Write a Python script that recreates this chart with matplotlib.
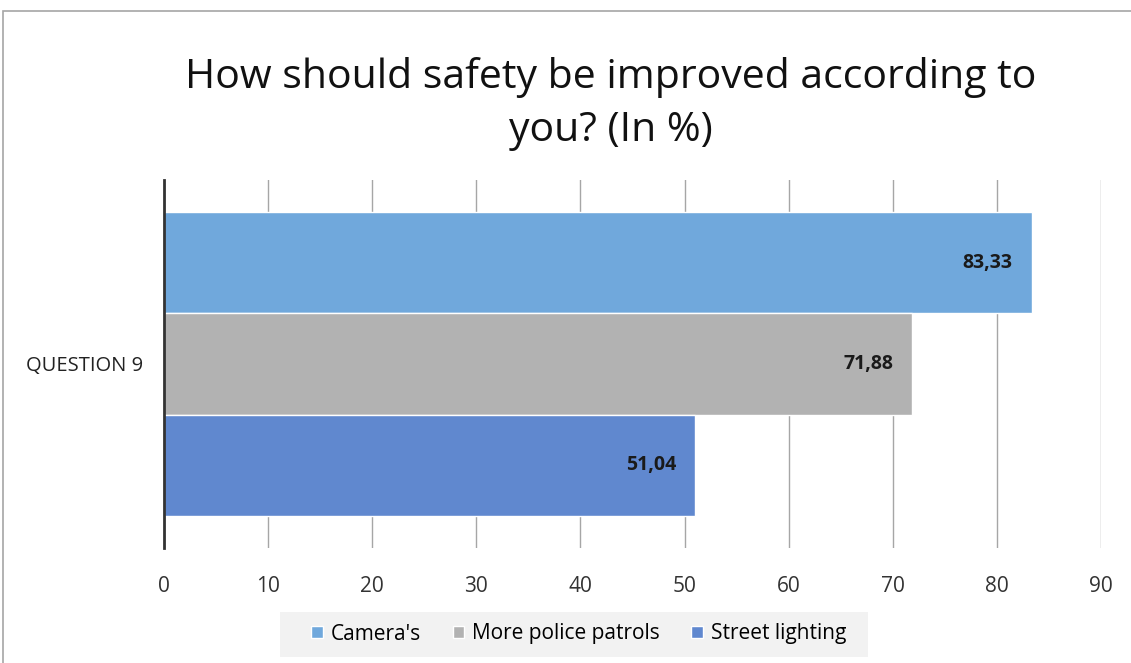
import matplotlib.pyplot as plt
from matplotlib.patches import Rectangle

category = "QUESTION 9"
series = ["Camera's", "More police patrols", "Street lighting"]
values = [83.33, 71.88, 51.04]
colors = ["#70A8DC", "#B2B2B2", "#6088CF"]
xticks = [0, 10, 20, 30, 40, 50, 60, 70, 80, 90]

plt.rcParams['font.family'] = ['Open Sans', 'DejaVu Sans']

fig = plt.figure(figsize=(11.31, 6.63), dpi=100)
ax = fig.add_axes([164 / 1131, 1 - 548 / 663, (1101 - 164) / 1131, (548 - 180) / 663])

# outer chart border (partly cropped in the reference)
fig.patches.append(Rectangle((3 / 1131, -0.1), 1.2, 1 - 11 / 663 + 0.1,
                             transform=fig.transFigure, fill=False,
                             edgecolor="#A6A6A6", linewidth=1.2))
# legend background
fig.patches.append(Rectangle((280 / 1131, 1 - 657 / 663), 588 / 1131, 45 / 663,
                             transform=fig.transFigure, facecolor="#F2F2F2",
                             edgecolor="none", zorder=0))

h = 0.2753
offsets = [h, 0, -h]
for name, v, c, off in zip(series, values, colors, offsets):
    ax.barh(off, v, height=h, color=c, edgecolor="white", linewidth=1, label=name, zorder=3)
    ax.text(v - 1.8, off, f"{v:.2f}".replace(".", ","), ha="right", va="center",
            fontsize=14, fontweight="bold", color="#1a1a1a", zorder=4)

ax.set_xlim(0, 90)
ax.set_ylim(-0.5, 0.5)
ax.set_xticks(xticks)
ax.set_xticklabels([str(t) for t in xticks], fontsize=15, color="#333333")
ax.set_yticks([0])
ax.set_yticklabels([category], fontsize=14.5, color="#222222")
ax.tick_params(axis="x", length=0, pad=20)
ax.tick_params(axis="y", length=0, pad=15)
ax.grid(axis="x", color="#A6A6A6", linewidth=1, zorder=0)
for s in ["top", "right", "bottom"]:
    ax.spines[s].set_visible(False)
ax.spines["left"].set_color("#333333")
ax.spines["left"].set_linewidth(2)
ax.spines["left"].set_zorder(5)

fig.text(611 / 1131, 1 - 104 / 663, "How should safety be improved according to\nyou? (In %)",
         ha="center", va="center", fontsize=29.5, color="#111111", linespacing=1.38)

leg = fig.legend(loc="center", bbox_to_anchor=(579 / 1131, 1 - 634 / 663), ncol=3,
                 frameon=False, fontsize=15, handlelength=0.55, handleheight=0.55,
                 handletextpad=0.4, columnspacing=1.5)

fig.savefig("out.png", dpi=100)
